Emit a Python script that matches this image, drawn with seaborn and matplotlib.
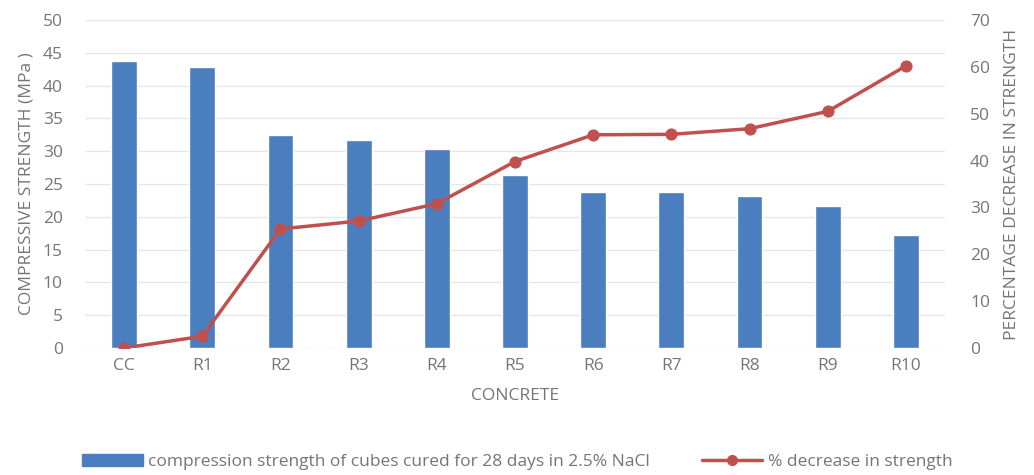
import matplotlib
matplotlib.use("Agg")
import matplotlib.pyplot as plt
import seaborn as sns
import pandas as pd
from matplotlib.patches import Patch
from matplotlib.lines import Line2D

categories = ["CC", "R1", "R2", "R3", "R4", "R5", "R6", "R7", "R8", "R9", "R10"]
strength_mpa = [43.7, 42.8, 32.4, 31.7, 30.3, 26.3, 23.8, 23.8, 23.2, 21.7, 17.3]
pct_decrease = [0.0, 2.5, 25.4, 27.1, 30.8, 39.8, 45.5, 45.6, 46.8, 50.5, 60.2]

bar_label = "compression strength of cubes cured for 28 days in 2.5% NaCl"
line_label = "% decrease in strength"

BLUE = "#4a7ebf"
RED = "#c0504d"
TXT = "#757575"
FS = 12.5

sns.set_style("white")
plt.rcParams["font.family"] = ["Open Sans", "DejaVu Sans"]

df = pd.DataFrame({"concrete": categories, "strength": strength_mpa, "pct": pct_decrease})

fig = plt.figure(figsize=(10.34, 4.75), dpi=100)
ax = fig.add_axes([85 / 1034, 1 - 348 / 475, 860 / 1034, 328 / 475])

sns.barplot(data=df, x="concrete", y="strength", color=BLUE, width=0.33,
            saturation=1, ax=ax, zorder=3)
ax.set_ylim(0, 50)
ax.set_yticks(range(0, 51, 5))
ax.set_xlim(-0.5, len(categories) - 0.5)
ax.grid(axis="y", color="#e6e6e6", linewidth=1, zorder=0)
ax.set_axisbelow(True)
for s in ax.spines.values():
    s.set_visible(False)
ax.tick_params(axis="both", length=0, colors=TXT, labelsize=FS)
ax.tick_params(axis="x", pad=7)
ax.tick_params(axis="y", pad=16)
ax.set_xlabel("CONCRETE", color=TXT, fontsize=FS, labelpad=10)
ax.set_ylabel("COMPRESSIVE STRENGTH (MPa )", color=TXT, fontsize=FS, labelpad=6)

ax2 = ax.twinx()
sns.lineplot(x=list(range(len(categories))), y=pct_decrease, ax=ax2, color=RED,
             linewidth=2.5, marker="o", markersize=8, markeredgecolor=RED, zorder=5)
ax2.set_ylim(0, 70)
ax2.set_yticks(range(0, 71, 10))
for s in ax2.spines.values():
    s.set_visible(False)
ax2.tick_params(axis="y", length=0, colors=TXT, labelsize=FS, pad=18)
ax2.set_ylabel("PERCENTAGE DECREASE IN STRENGTH", color=TXT, fontsize=FS, labelpad=10)
ax2.grid(False)

handles = [
    Patch(facecolor=BLUE, edgecolor=BLUE),
    Line2D([0], [0], color=RED, linewidth=2.5, marker="o", markersize=7),
]
fig.legend(handles, [bar_label, line_label], loc="center", bbox_to_anchor=(0.5, 1 - 462 / 475),
           ncol=2, frameon=False, fontsize=FS, labelcolor=TXT, handlelength=3.5,
           handletextpad=0.3, columnspacing=3)

fig.savefig("out.png", dpi=100, facecolor="white")
